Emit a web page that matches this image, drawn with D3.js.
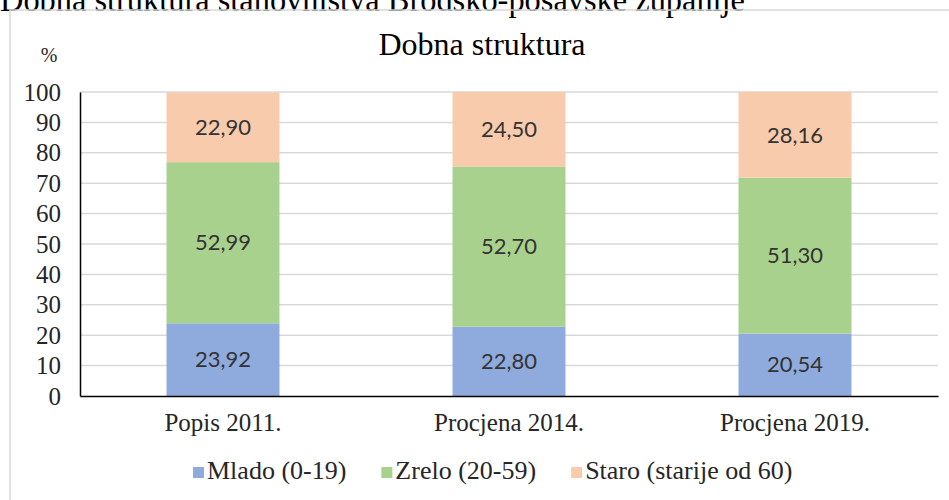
<!DOCTYPE html>
<html>
<head>
<meta charset="utf-8">
<script src="https://cdn.jsdelivr.net/npm/d3@7"></script>
<style>
    body { margin: 0; background: #fff; }
    svg { display: block; }
</style>
</head>
<body>
<div id="chart"></div>
<script>
// data
const categories = ["Popis 2011.", "Procjena 2014.", "Procjena 2019."];
const seriesNames = ["Mlado (0-19)", "Zrelo (20-59)", "Staro (starije od 60)"];
const mlado = [23.92, 22.80, 20.54];
const zrelo = [52.99, 52.70, 51.30];
const staro = [22.90, 24.50, 28.16];
const yTicks = [0, 10, 20, 30, 40, 50, 60, 70, 80, 90, 100];

const colors = ["#8faadc", "#a9d18e", "#f8cbad"];

window.onload = init;

function init()
{
    const width = 949, height = 500;
    const plot = { left: 80, right: 938, top: 92, bottom: 396 };          // plot area in px

    const svg = d3.select("#chart")
        .append("svg")
        .attr("width", width)
        .attr("height", height);

    const serif = "'Liberation Serif', 'Times New Roman', serif";

    // clipped document caption above the chart frame
    svg.append("text")
        .attr("x", 0)
        .attr("y", 11)
        .attr("font-family", serif)
        .attr("font-size", 34)
        .attr("fill", "#000")
        .attr("textLength", 745)
        .attr("lengthAdjust", "spacingAndGlyphs")
        .text("Dobna struktura stanovništva Brodsko-posavske županije");

    // chart frame (only top and left edges are inside the picture)
    svg.append("path")
        .attr("d", `M10,${height} L10,10 L${width},10`)
        .attr("fill", "none")
        .attr("stroke", "#d9d9d9")
        .attr("stroke-width", 1.5);

    const rows = categories.map((c, i) => ({
        category: c, mlado: mlado[i], zrelo: zrelo[i], staro: staro[i]
    }));
    const keys = ["mlado", "zrelo", "staro"];
    const stacked = d3.stack().keys(keys)(rows);

    const x = d3.scaleBand()
        .domain(categories)
        .range([plot.left, plot.right])
        .paddingInner(0.605)
        .paddingOuter(0.3025);

    const y = d3.scaleLinear()
        .domain([0, 100])
        .range([plot.bottom, plot.top]);

    // gridlines
    svg.append("g")
        .selectAll("line")
        .data(yTicks.filter(t => t > 0))
        .join("line")
        .attr("x1", plot.left)
        .attr("x2", plot.right)
        .attr("y1", d => y(d))
        .attr("y2", d => y(d))
        .attr("stroke", "#d9d9d9")
        .attr("stroke-width", 1.5);

    // bars
    const groups = svg.append("g")
        .selectAll("g")
        .data(stacked)
        .join("g")
        .attr("fill", (d, i) => colors[i]);

    groups.selectAll("rect")
        .data(d => d)
        .join("rect")
        .attr("x", d => x(d.data.category))
        .attr("width", x.bandwidth())
        .attr("y", d => y(d[1]))
        .attr("height", d => y(d[0]) - y(d[1]));

    // value labels
    groups.selectAll("text")
        .data(d => d.map(v => ({ v: v, key: d.key })))
        .join("text")
        .attr("x", d => x(d.v.data.category) + x.bandwidth() / 2)
        .attr("y", d => y((d.v[0] + d.v[1]) / 2))
        .attr("dy", "0.35em")
        .attr("text-anchor", "middle")
        .attr("font-family", "Lato, 'Open Sans', sans-serif")
        .attr("font-size", 22)
        .attr("fill", "#333")
        .text(d => d.v.data[d.key].toFixed(2).replace(".", ","));

    // y axis
    const yAxis = svg.append("g")
        .attr("transform", `translate(${plot.left},0)`)
        .call(d3.axisLeft(y).tickValues(yTicks).tickSize(0).tickPadding(19));
    yAxis.attr("font-family", serif);
    yAxis.select(".domain").attr("stroke", "#000").attr("stroke-width", 1.5);
    yAxis.selectAll("text")
        .attr("font-family", serif)
        .attr("font-size", 25)
        .attr("fill", "#262626");

    // x axis
    const xAxis = svg.append("g")
        .attr("transform", `translate(0,${plot.bottom})`)
        .call(d3.axisBottom(x).tickSize(0).tickPadding(17));
    xAxis.attr("font-family", serif);
    xAxis.select(".domain").attr("stroke", "#000").attr("stroke-width", 1.5);
    xAxis.selectAll("text")
        .attr("font-family", serif)
        .attr("font-size", 25)
        .attr("fill", "#262626");

    // unit label
    svg.append("text")
        .attr("x", 49)
        .attr("y", 62)
        .attr("text-anchor", "middle")
        .attr("font-family", serif)
        .attr("font-size", 20)
        .attr("fill", "#262626")
        .text("%");

    // title
    svg.append("text")
        .attr("x", 482)
        .attr("y", 55)
        .attr("text-anchor", "middle")
        .attr("font-family", serif)
        .attr("font-size", 32)
        .attr("fill", "#000")
        .text("Dobna struktura");

    // legend
    const legend = svg.append("g").attr("transform", "translate(193,479)");
    let offset = 0;
    seriesNames.forEach((name, i) => {
        const item = legend.append("g").attr("transform", `translate(${offset},0)`);
        item.append("rect")
            .attr("x", 0)
            .attr("y", -12)
            .attr("width", 11)
            .attr("height", 11)
            .attr("fill", colors[i]);
        const t = item.append("text")
            .attr("x", 14)
            .attr("y", 0)
            .attr("font-family", serif)
            .attr("font-size", 26)
            .attr("fill", "#262626")
            .text(name);
        offset += 14 + t.node().getComputedTextLength() + 35;
    });
}
</script>
</body>
</html>
